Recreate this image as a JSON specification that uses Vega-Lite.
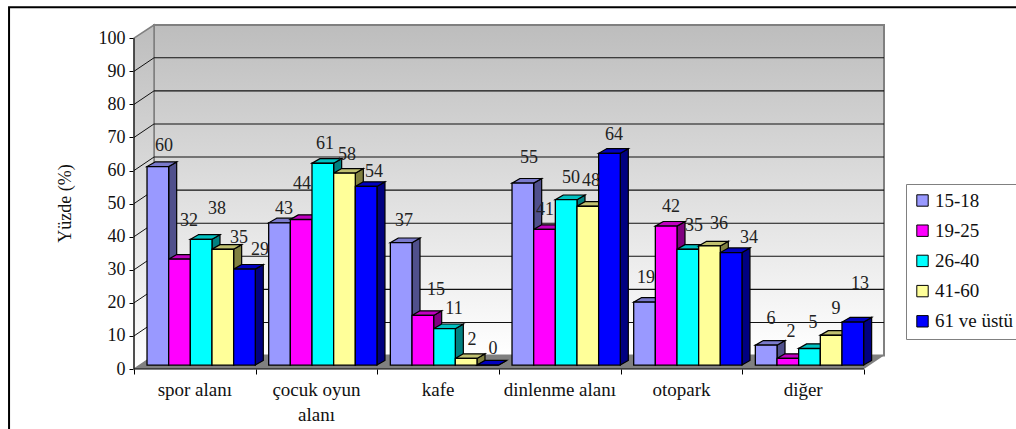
{
"$schema":"https://vega.github.io/schema/vega-lite/v6.json",
"width":751,"height":344,"autosize":"none","padding":{"left":134,"top":25,"right":131,"bottom":60},
"background":"white",
"config":{"view":{"stroke":null},"font":"Liberation Serif","text":{"font":"Liberation Serif"}},
"resolve":{"axis":{"x":"independent","y":"independent"}},
"datasets":{
"rows":[
{"alan":"spor alanı","grup":"15-18","yuzde":60},{"alan":"spor alanı","grup":"19-25","yuzde":32},{"alan":"spor alanı","grup":"26-40","yuzde":38},{"alan":"spor alanı","grup":"41-60","yuzde":35},{"alan":"spor alanı","grup":"61 ve üstü","yuzde":29},
{"alan":"çocuk oyun alanı","grup":"15-18","yuzde":43},{"alan":"çocuk oyun alanı","grup":"19-25","yuzde":44},{"alan":"çocuk oyun alanı","grup":"26-40","yuzde":61},{"alan":"çocuk oyun alanı","grup":"41-60","yuzde":58},{"alan":"çocuk oyun alanı","grup":"61 ve üstü","yuzde":54},
{"alan":"kafe","grup":"15-18","yuzde":37},{"alan":"kafe","grup":"19-25","yuzde":15},{"alan":"kafe","grup":"26-40","yuzde":11},{"alan":"kafe","grup":"41-60","yuzde":2},{"alan":"kafe","grup":"61 ve üstü","yuzde":0},
{"alan":"dinlenme alanı","grup":"15-18","yuzde":55},{"alan":"dinlenme alanı","grup":"19-25","yuzde":41},{"alan":"dinlenme alanı","grup":"26-40","yuzde":50},{"alan":"dinlenme alanı","grup":"41-60","yuzde":48},{"alan":"dinlenme alanı","grup":"61 ve üstü","yuzde":64},
{"alan":"otopark","grup":"15-18","yuzde":19},{"alan":"otopark","grup":"19-25","yuzde":42},{"alan":"otopark","grup":"26-40","yuzde":35},{"alan":"otopark","grup":"41-60","yuzde":36},{"alan":"otopark","grup":"61 ve üstü","yuzde":34},
{"alan":"diğer","grup":"15-18","yuzde":6},{"alan":"diğer","grup":"19-25","yuzde":2},{"alan":"diğer","grup":"26-40","yuzde":5},{"alan":"diğer","grup":"41-60","yuzde":9},{"alan":"diğer","grup":"61 ve üstü","yuzde":13}
],
"ticks":[{"deger":0},{"deger":10},{"deger":20},{"deger":30},{"deger":40},{"deger":50},{"deger":60},{"deger":70},{"deger":80},{"deger":90},{"deger":100}],
"planes":[{"k":0},{"k":1}],
"one":[{"k":0}]
},
"layer":[
{"data":{"name":"one"},"mark":{"type":"rect","fill":null,"stroke":"black","strokeWidth":2},
 "encoding":{
  "x":{"datum":-1.027,"type":"quantitative","scale":{"domain":[0,6.1726],"nice":false,"zero":false},"axis":{"values":[0,1,2,3,4,5,6],"labels":false,"domain":false,"grid":false,"title":null,"tickColor":"black","tickSize":5}},
  "x2":{"datum":8},
  "y":{"datum":109.4,"type":"quantitative","scale":{"domain":[0,104],"nice":false,"zero":false},"axis":{"values":[0,10,20,30,40,50,60,70,80,90,100],"labelOverlap":false,"domain":false,"grid":false,"title":"Yüzde (%)","titleFont":"Liberation Serif","titleFontSize":18,"titleFontWeight":"normal","titleColor":"#111","titleX":-60,"titleY":178,"labelFont":"Liberation Serif","labelFontSize":18,"labelColor":"#111","labelPadding":4,"tickColor":"black","tickSize":5}},
  "y2":{"datum":-40}
 }},
{"data":{"name":"one"},"mark":{"type":"rect","stroke":"#808080","strokeWidth":2,"fill":{"gradient":"linear","x1":0,"y1":0,"x2":0,"y2":1,"stops":[{"offset":0,"color":"#bdbdbd"},{"offset":1,"color":"#ffffff"}]}},
 "encoding":{"x":{"datum":0.1644,"type":"quantitative","axis":null},"x2":{"datum":6.1644},"y":{"datum":104,"type":"quantitative","axis":null},"y2":{"datum":4.08}}},
{"data":{"name":"planes"},"transform":[{"calculate":"datum.k*0.1644","as":"wx"},{"calculate":"datum.k*4.08","as":"wl"},{"calculate":"100+datum.k*4","as":"wh"}],
 "mark":{"type":"area","orient":"vertical","stroke":"#808080","strokeWidth":1.5,"fill":{"gradient":"linear","x1":0,"y1":0,"x2":0,"y2":1,"stops":[{"offset":0,"color":"#bdbdbd"},{"offset":1,"color":"#ffffff"}]}},
 "encoding":{"x":{"field":"wx","type":"quantitative","axis":null},"y":{"field":"wh","type":"quantitative","stack":null,"axis":null},"y2":{"field":"wl"}}},
{"data":{"name":"planes"},"transform":[{"calculate":"datum.k*4.08","as":"fy"},{"calculate":"datum.k*0.1644","as":"fa"},{"calculate":"6+datum.k*0.1644","as":"fb"}],
 "mark":{"type":"area","orient":"horizontal","fill":"#808080"},
 "encoding":{"y":{"field":"fy","type":"quantitative","axis":null},"x":{"field":"fa","type":"quantitative","stack":null,"axis":null},"x2":{"field":"fb"}}},
{"data":{"name":"ticks"},"transform":[{"filter":"datum.deger>0 && datum.deger<100"},{"calculate":"datum.deger+4.08","as":"ust"}],
 "mark":{"type":"rule","color":"#111","strokeWidth":1.1},
 "encoding":{"x":{"datum":0.1644,"type":"quantitative","axis":null},"x2":{"datum":6.1644},"y":{"field":"ust","type":"quantitative","axis":null}}},
{"data":{"name":"ticks"},"transform":[{"filter":"datum.deger>0 && datum.deger<100"},{"calculate":"datum.deger+4.08","as":"ust"}],
 "mark":{"type":"rule","color":"#111","strokeWidth":1},
 "encoding":{"x":{"datum":0,"type":"quantitative","axis":null},"x2":{"datum":0.1644},"y":{"field":"deger","type":"quantitative","axis":null},"y2":{"field":"ust"}}},
{"data":{"name":"one"},"mark":{"type":"rule","color":"black","strokeWidth":1},
 "encoding":{"x":{"datum":0,"type":"quantitative","axis":null},"y":{"datum":0,"type":"quantitative","axis":null},"y2":{"datum":100}}},
{"data":{"name":"one"},"mark":{"type":"rule","color":"black","strokeWidth":1},
 "encoding":{"x":{"datum":0,"type":"quantitative","axis":null},"x2":{"datum":6},"y":{"datum":0,"type":"quantitative","axis":null}}},
{"data":{"name":"rows"},
 "transform":[
  {"calculate":"indexof(['spor alanı','çocuk oyun alanı','kafe','dinlenme alanı','otopark','diğer'],datum.alan)","as":"c"},
  {"calculate":"indexof(['15-18','19-25','26-40','41-60','61 ve üstü'],datum.grup)","as":"s"},
  {"calculate":"datum.c+0.107+datum.s*0.178","as":"x0"},
  {"calculate":"datum.x0+0.178","as":"x1"},
  {"calculate":"1.2","as":"v0"},
  {"calculate":"datum.yuzde+1.2","as":"v1"},
  {"calculate":"datum.alan+datum.grup","as":"bar"},
  {"calculate":"['#50508c','#800080','#008080','#808040','#000080'][datum.s]","as":"yan"},
  {"calculate":"['#7a7acc','#c000c0','#00c0c0','#c0c070','#0000c0'][datum.s]","as":"ust"},
  {"calculate":"[[0.051,0.078,0.13,0.133,0.128],[0.037,0.007,0.018,0.021,0.065],[0.023,0.108,0.078,0.048,0.043],[0.05,0.004,0.04,0.026,0.037],[0.012,0.04,0.051,0.078,0.147],[0.039,0.026,0.029,0.04,0.059]][datum.c][datum.s]","as":"kayX"},
  {"calculate":"[[7.4,12.7,10.4,4.6,7],[5.4,11.9,7,6.7,5.6],[7.7,8.9,7.1,6.8,6],[8.8,7.1,7.7,8.8,6.7],[8.5,7,8.2,7.8,5.6],[9.1,9.2,8.9,9.1,12.7]][datum.c][datum.s]","as":"kayY"},
  {"calculate":"(datum.x0+datum.x1)/2+datum.kayX","as":"etX"},
  {"calculate":"datum.yuzde+datum.kayY","as":"etY"}
 ],
 "layer":[
  {"transform":[{"calculate":"[0,1]","as":"k"},{"flatten":["k"]},{"calculate":"datum.x1+datum.k*0.0658","as":"sx"},{"calculate":"datum.v0+datum.k*1.4","as":"sl"},{"calculate":"datum.v1+datum.k*1.4","as":"sh"}],
   "mark":{"type":"area","orient":"vertical","stroke":"black","strokeWidth":1.2},
   "encoding":{"x":{"field":"sx","type":"quantitative","axis":null},"y":{"field":"sh","type":"quantitative","stack":null,"axis":null},"y2":{"field":"sl"},"fill":{"field":"yan","type":"nominal","scale":null},"detail":{"field":"bar"}}},
  {"transform":[{"calculate":"[0,1]","as":"k"},{"flatten":["k"]},{"calculate":"datum.x0+datum.k*0.0658","as":"ta"},{"calculate":"datum.x1+datum.k*0.0658","as":"tb"},{"calculate":"datum.v1+datum.k*1.4","as":"ty"}],
   "mark":{"type":"area","orient":"horizontal","stroke":"black","strokeWidth":1.2},
   "encoding":{"y":{"field":"ty","type":"quantitative","axis":null},"x":{"field":"ta","type":"quantitative","stack":null,"axis":null},"x2":{"field":"tb"},"fill":{"field":"ust","type":"nominal","scale":null},"detail":{"field":"bar"}}},
  {"mark":{"type":"rect","stroke":"black","strokeWidth":1.3},
   "encoding":{"x":{"field":"x0","type":"quantitative","axis":null},"x2":{"field":"x1"},"y":{"field":"v1","type":"quantitative","axis":null},"y2":{"field":"v0"},
    "fill":{"field":"grup","type":"nominal","sort":null,"scale":{"domain":["15-18","19-25","26-40","41-60","61 ve üstü"],"range":["#9999ff","#ff00ff","#00ffff","#ffff99","#0000ff"]},
     "legend":{"title":null,"orient":"none","legendX":772,"legendY":159,"fillColor":"white","strokeColor":"#808080","padding":7,"symbolType":"square","symbolSize":130,"symbolStrokeColor":"black","symbolStrokeWidth":1,"symbolOpacity":1,"labelFont":"Liberation Serif","labelFontSize":19,"labelColor":"#111","labelOffset":3,"rowPadding":10.2,"labelLimit":200}}}},
  {"mark":{"type":"text","font":"Liberation Serif","fontSize":18,"color":"#222","baseline":"middle","align":"center"},
   "encoding":{"x":{"field":"etX","type":"quantitative","axis":null},"y":{"field":"etY","type":"quantitative","axis":null},"text":{"field":"yuzde","type":"quantitative"}}},
  {"transform":[{"filter":"datum.s==0"},{"calculate":"datum.c+0.5","as":"ax"},{"calculate":"replace(datum.alan,'oyun ','oyun\\n')","as":"ad"}],
   "mark":{"type":"text","font":"Liberation Serif","fontSize":19,"color":"#111","baseline":"top","align":"center","lineBreak":"\n","lineHeight":25,"dy":12},
   "encoding":{"x":{"field":"ax","type":"quantitative","axis":null},"y":{"datum":0,"type":"quantitative","axis":null},"text":{"field":"ad","type":"nominal"}}}
 ]}
]
}
